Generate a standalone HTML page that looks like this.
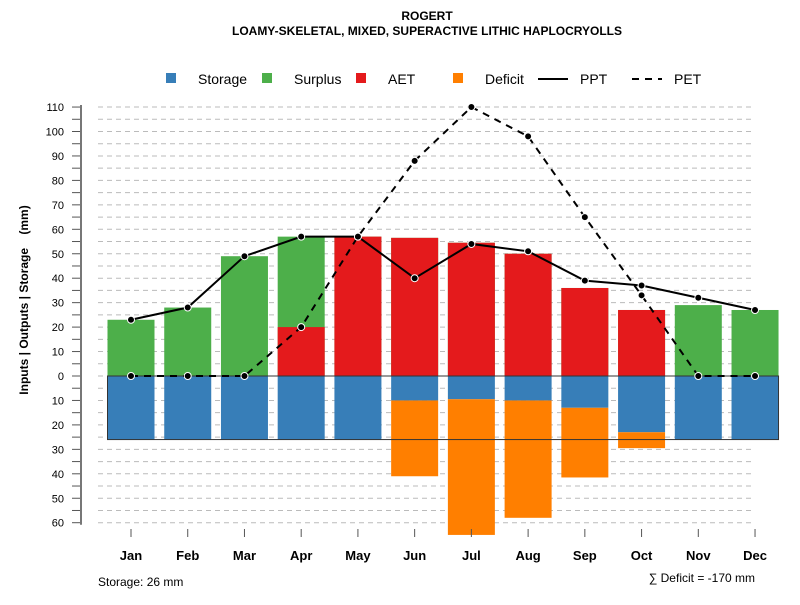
<!DOCTYPE html>
<html><head><meta charset="utf-8"><style>
body{margin:0;background:#fff;}
svg text{font-family:"Liberation Sans",sans-serif;}
</style></head><body>
<svg id="chart" width="800" height="600" xmlns="http://www.w3.org/2000/svg">
<text x="427" y="20" text-anchor="middle" font-size="12" font-weight="bold">ROGERT</text>
<text x="427" y="35" text-anchor="middle" font-size="12" font-weight="bold">LOAMY-SKELETAL, MIXED, SUPERACTIVE LITHIC HAPLOCRYOLLS</text>
<g id="legend"></g>
<g id="grid"></g><g id="bars"></g><g id="lines"></g><g id="axes"></g>
<text transform="translate(28,300) rotate(-90)" text-anchor="middle" font-size="12" font-weight="bold">Inputs | Outputs | Storage &#160;&#160;&#160;(mm)</text>
<text x="98" y="586" font-size="12">Storage: 26 mm</text>
<text x="755" y="582" text-anchor="end" font-size="12">∑ Deficit = -170 mm</text>
</svg>
<script>
const months=["Jan","Feb","Mar","Apr","May","Jun","Jul","Aug","Sep","Oct","Nov","Dec"];
const surplus=[23,28,49,37,0,0,0,0,0,0,29,27];
const aet=[0,0,0,20,57,56.5,54.5,50,36,27,0,0];
const storage=[26,26,26,26,26,10,9.5,10,13,23,26,26];
const deficit=[0,0,0,0,0,31,55.5,48,28.5,6.5,0,0];
const ppt=[23,28,49,57,57,40,54,51,39,37,32,27];
const pet=[0,0,0,20,57,88,110,98,65,33,0,0];
const storageCap=26;
const posTicks=[0,10,20,30,40,50,60,70,80,90,100,110];
const negTicks=[10,20,30,40,50,60];
const NS="http://www.w3.org/2000/svg";
const y=v=>376-v*2.445;
const x=i=>131+i*56.73;
const BW=47;
function mk(tag,attrs,parent){const e=document.createElementNS(NS,tag);for(const k in attrs)e.setAttribute(k,attrs[k]);document.getElementById(parent).appendChild(e);return e;}
for(let v=-60;v<=110;v+=5){
 const g=mk('line',{x1:98,x2:755,y1:y(v),y2:y(v),stroke:'#bbb','stroke-dasharray':'5,4'},'grid');
 
 
 const t=mk('line',{x1:72,x2:81,y1:y(v),y2:y(v),stroke:'#555'},'axes');
 
 
}
const ax=mk('line',{x1:81,x2:81,y1:y(110)-2,y2:y(-60)+2,stroke:'#777','stroke-width':2},'axes');


posTicks.forEach(v=>{const t=mk('text',{x:64,y:y(v)+4,'text-anchor':'end','font-size':11},'axes');t.textContent=v;
 
 });
negTicks.forEach(v=>{const t=mk('text',{x:64,y:y(-v)+4,'text-anchor':'end','font-size':11},'axes');t.textContent=v;
 
 });
months.forEach((m,i)=>{
 const cx=x(i),l=cx-BW/2;
 function rect(v0,v1,col,name){if(v1===v0)return;const r=mk('rect',{x:l,y:Math.min(y(v0),y(v1)),width:BW,height:Math.abs(y(v1)-y(v0)),fill:col},'bars');
  
  }
 rect(0,surplus[i]+aet[i],'#4daf4a','surplus-bar-'+m.toLowerCase());
 rect(0,aet[i],'#e41a1c','aet-bar-'+m.toLowerCase());
 rect(0,-storage[i],'#377eb8','storage-bar-'+m.toLowerCase());
 rect(-storage[i],-storage[i]-deficit[i],'#ff7f00','deficit-bar-'+m.toLowerCase());
 const tk=mk('line',{x1:cx,x2:cx,y1:529,y2:537,stroke:'#555'},'axes');
 
 
 const t=mk('text',{x:cx,y:560,'text-anchor':'middle','font-size':13,'font-weight':'bold'},'axes');t.textContent=m;
 
 
});
const box=mk('rect',{x:x(0)-BW/2,y:y(0),width:x(11)-x(0)+BW,height:y(-storageCap)-y(0),fill:'none',stroke:'#333','stroke-width':1},'bars');


function series(vals,dash,name){
 const p=mk('polyline',{points:vals.map((v,i)=>x(i)+','+y(v)).join(' '),fill:'none',stroke:'#000','stroke-width':2,'stroke-dasharray':dash},'lines');
 
 
 vals.forEach((v,i)=>{const c=mk('circle',{cx:x(i),cy:y(v),r:3.5,fill:'#000',stroke:'#fff','stroke-width':1},'lines');
  
  });
}
series(pet,'7,6','pet');
series(ppt,'','ppt');
const leg=[["Storage","#377eb8",166,'sq'],["Surplus","#4daf4a",262,'sq'],["AET","#e41a1c",356,'sq'],["Deficit","#ff7f00",453,'sq'],["PPT","",538,'line'],["PET","",632,'dash']];
leg.forEach(([lab,col,lx,kind])=>{
 const g=mk('g',{},'legend');
 
 
 let e;
 if(kind==='sq')e=mk('rect',{x:lx,y:73,width:10,height:10,fill:col},'legend');
 else e=mk('line',{x1:lx,x2:lx+30,y1:79,y2:79,stroke:'#000','stroke-width':2,'stroke-dasharray':kind==='dash'?'7,6':''},'legend');
 g.appendChild(e);
 const t=mk('text',{x:kind==='sq'?lx+32:lx+42,y:84,'font-size':14},'legend');t.textContent=lab;g.appendChild(t);
});
</script>
</body></html>
